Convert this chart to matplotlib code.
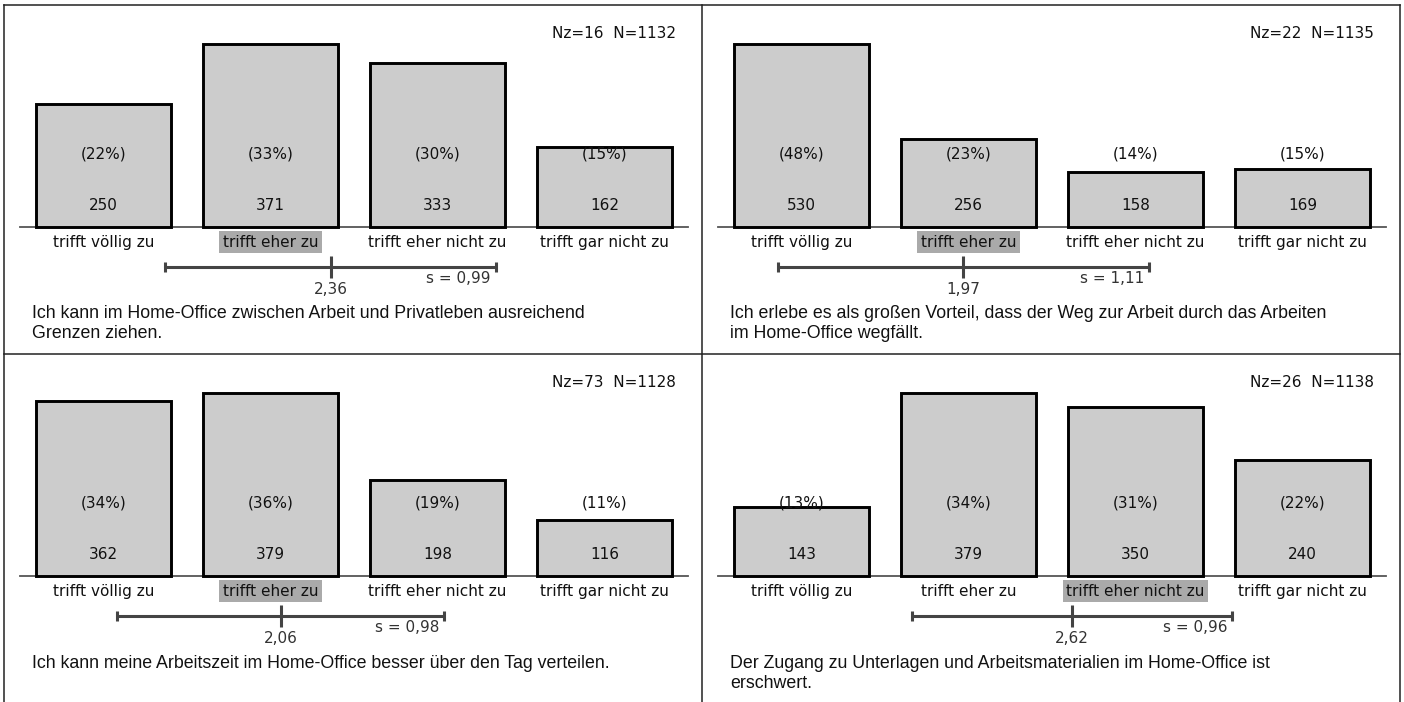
import matplotlib
matplotlib.use("Agg")
import matplotlib.pyplot as plt
from matplotlib.lines import Line2D

# ---------------- data ----------------
categories = ["trifft völlig zu", "trifft eher zu", "trifft eher nicht zu", "trifft gar nicht zu"]
cat_pos = [1, 2, 3, 4]

counts_1 = [250, 371, 333, 162]
counts_2 = [530, 256, 158, 169]
counts_3 = [362, 379, 198, 116]
counts_4 = [143, 379, 350, 240]

pct_1 = [22, 33, 30, 15]
pct_2 = [48, 23, 14, 15]
pct_3 = [34, 36, 19, 11]
pct_4 = [13, 34, 31, 22]

nz_values = [16, 22, 73, 26]
n_values = [1132, 1135, 1128, 1138]
means = [2.36, 1.97, 2.06, 2.62]
sds = [0.99, 1.11, 0.98, 0.96]
median_idx = [1, 1, 1, 2]

questions = [
    ["Ich kann im Home-Office zwischen Arbeit und Privatleben ausreichend", "Grenzen ziehen."],
    ["Ich erlebe es als großen Vorteil, dass der Weg zur Arbeit durch das Arbeiten", "im Home-Office wegfällt."],
    ["Ich kann meine Arbeitszeit im Home-Office besser über den Tag verteilen."],
    ["Der Zugang zu Unterlagen und Arbeitsmaterialien im Home-Office ist", "erschwert."],
]

all_counts = [counts_1, counts_2, counts_3, counts_4]
all_pcts = [pct_1, pct_2, pct_3, pct_4]

# ---------------- layout ----------------
W, H = 1404, 702
fig = plt.figure(figsize=(W / 100, H / 100), dpi=100)


def fx(px):
    return px / W


def fy(py):
    return 1 - py / H


def de(v):
    return f"{v:.2f}".replace(".", ",")


offsets = [(0, 0), (698, 0), (0, 349), (698, 349)]
LBL = "DejaVu Sans"
QF = "Liberation Sans"
FS = 11

for p, (ox, oy) in enumerate(offsets):
    counts = all_counts[p]
    pcts = all_pcts[p]
    ax = fig.add_axes([fx(ox + 20), fy(oy + 227), 668 / W, 183 / H])
    ax.set_xlim(0.5, 4.5)
    ax.set_ylim(0, max(counts))
    ax.bar(cat_pos, counts, width=0.808, color="#cccccc", edgecolor="black",
           linewidth=2.1, zorder=2, clip_on=False)
    ax.axhline(0, color="#555555", lw=1.3, zorder=1, clip_on=False)
    for s in ax.spines.values():
        s.set_visible(False)
    ax.set_xticks(cat_pos)
    ax.tick_params(axis="x", direction="in", length=4, width=1, color="#333333",
                   labelbottom=False)
    ax.set_yticks([])
    ax.patch.set_alpha(0)

    tr = ax.get_xaxis_transform()
    for i, c in enumerate(cat_pos):
        ax.text(c, 0.12, str(counts[i]), transform=tr, ha="center", va="center",
                fontsize=FS, family=LBL, color="#111111", zorder=4)
        ax.text(c, 0.40, f"({pcts[i]}%)", transform=tr, ha="center", va="center",
                fontsize=FS, family=LBL, color="#111111", zorder=4)
        kw = {}
        if i == median_idx[p]:
            kw["bbox"] = dict(facecolor="#aaaaaa", edgecolor="none", pad=2.6)
        ax.text(c, -0.082, categories[i], transform=tr, ha="center", va="center",
                fontsize=FS, family=LBL, color="#111111", **kw)

    m, s = means[p], sds[p]
    ye = -0.219
    ax.plot([m - s, m + s], [ye, ye], transform=tr, clip_on=False,
            color="#444444", lw=2.2, solid_capstyle="butt")
    cap = 5 / 183
    for xx in (m - s, m + s):
        ax.plot([xx, xx], [ye - cap, ye + cap], transform=tr, clip_on=False,
                color="#444444", lw=2.2, solid_capstyle="butt")
    ax.plot([m, m], [ye - 11 / 183, ye + 11 / 183], transform=tr, clip_on=False,
            color="#444444", lw=2.2, solid_capstyle="butt")
    ax.text(m, -0.339, de(m), transform=tr, ha="center", va="center",
            fontsize=FS, family=LBL, color="#333333")
    ax.text(m + s - 0.03, -0.284, "s = " + de(s), transform=tr, ha="right",
            va="center", fontsize=FS, family=LBL, color="#333333")

    ax.text(0.982, 1.055, f"Nz={nz_values[p]}  N={n_values[p]}", transform=ax.transAxes,
            ha="right", va="center", fontsize=FS, family=LBL, color="#111111")

    for j, line in enumerate(questions[p]):
        fig.text(fx(ox + 32), fy(oy + 314 + 20 * j), line, ha="left", va="center",
                 fontsize=12.8, family=QF, color="#111111")

# panel borders
bc = "#222222"
for x in (4, 702, 1400):
    fig.add_artist(Line2D([fx(x), fx(x)], [fy(5), fy(702)], transform=fig.transFigure,
                          color=bc, lw=1.1))
for y in (5, 354):
    fig.add_artist(Line2D([fx(4), fx(1400)], [fy(y), fy(y)], transform=fig.transFigure,
                          color=bc, lw=1.1))

fig.savefig("out.png", dpi=100)
